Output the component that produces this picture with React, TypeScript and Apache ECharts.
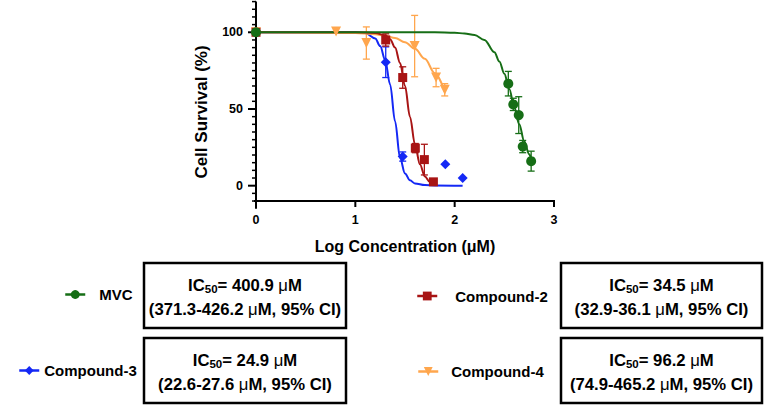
import React, { useEffect, useRef } from "react";
import * as echarts from "echarts";

// ---- measured points (log µM, % survival, error) ----
const logMVC = [0, 2.54, 2.59, 2.645, 2.685, 2.77];
const survMVC = [100, 66.5, 53, 46, 25.5, 16];
const sdMVC = [0, 8, 4, 12, 4, 6.5];

const logC2 = [0, 1.306, 1.477, 1.604, 1.695, 1.786];
const survC2 = [100, 95, 70.5, 24.5, 17, 2.5];
const sdC2 = [0, 4, 7, 3, 10, 1];

const logC3 = [0, 1.306, 1.477, 1.906, 2.081];
const survC3 = [100, 80.5, 19, 14, 5];
const sdC3 = [0, 10, 3, 0, 0];

const logC4 = [0, 0.806, 1.111, 1.597, 1.813, 1.9];
const survC4 = [100, 100.5, 93, 91, 70.5, 62.5];
const sdC4 = [0, 0, 10.5, 20, 6, 4];

// ---- fitted curves ----
const fitMVCx = [0, 1.8, 2.0, 2.1, 2.2, 2.3, 2.4, 2.45, 2.5, 2.55, 2.6, 2.65, 2.7, 2.75, 2.77];
const fitMVCy = [100, 100, 99.7, 99.2, 98.2, 95, 87, 81, 73, 63, 51, 40, 29, 20.5, 17.5];
const fitC2x = [0, 1.0, 1.2, 1.3, 1.35, 1.4, 1.45, 1.5, 1.55, 1.6, 1.65, 1.7, 1.75, 1.786];
const fitC2y = [100, 100, 99.6, 98, 95.5, 90, 80, 65, 45, 27, 14, 6, 2.5, 1];
const fitC3x = [0, 1.0, 1.1, 1.2, 1.25, 1.3, 1.35, 1.4, 1.45, 1.5, 1.55, 1.6, 1.7, 1.8, 2.08];
const fitC3y = [100, 100, 99.5, 96, 91, 82, 66, 42, 18, 8, 3.5, 1.5, 0.4, 0.2, 0];
const fitC4x = [0, 1.0, 1.2, 1.3, 1.4, 1.5, 1.6, 1.7, 1.8, 1.9];
const fitC4y = [100, 99.6, 98.7, 97.8, 96.2, 93.5, 89.2, 82.7, 73.3, 61.3];

// ---- names, titles, IC50 texts ----
const seriesNames = ["MVC", "Compound-2", "Compound-3", "Compound-4"];
const xTitle = "Log Concentration (μM)";
const yTitle = "Cell Survival (%)";
const ic50 = [400.9, 34.5, 24.9, 96.2];
const ciLow = [371.3, 32.9, 22.6, 74.9];
const ciHigh = [426.2, 36.1, 27.6, 465.2];

// ---- axis ranges and ticks ----
const xRange = [0, 3];
const yRange = [-15, 120];
const xAxisAt = -10;
const xTicks = [0, 1, 2, 3];
const yMajorTicks = [0, 50, 100];
const yMinorTicks = [-10, -5, 0, 5, 10, 15, 20, 25, 30, 35, 40, 45, 50, 55, 60, 65, 70, 75, 80, 85, 90, 95, 100, 105, 110, 115, 120];

const GREEN = "#166E16";
const RED = "#A81414";
const BLUE = "#1428F5";
const ORANGE = "#FFA64D";
const FONT = "Liberation Sans";
const BOX_FS = 16.7;
const SUB_FS = 11.5;

const zip2 = (xs: number[], ys: number[]) => xs.map((x, i) => [x, ys[i]]);
const zip3 = (xs: number[], ys: number[], es: number[]) => xs.map((x, i) => [x, ys[i], es[i]]);

// axis lines and ticks, drawn through the chart's own scales
function xAxisSeries() {
  return {
    type: "custom",
    silent: true,
    z: 1,
    clip: false,
    data: xTicks.map((v) => [v, xAxisAt]),
    renderItem: (params: any, api: any) => {
      const p = api.coord([api.value(0), api.value(1)]);
      const st = { stroke: "#000", lineWidth: 2 };
      const children: any[] = [{ type: "line", shape: { x1: p[0], y1: p[1], x2: p[0], y2: p[1] + 6 }, style: st }];
      if (params.dataIndex === 0) {
        const a = api.coord([xRange[0], xAxisAt]);
        const b = api.coord([xRange[1], xAxisAt]);
        children.push({ type: "line", shape: { x1: a[0] - 2, y1: a[1], x2: b[0] + 1, y2: b[1] }, style: st });
      }
      return { type: "group", children };
    },
  };
}

function yAxisSeries() {
  return {
    type: "custom",
    silent: true,
    z: 1,
    clip: false,
    data: yMinorTicks.map((v) => [xRange[0], v]),
    renderItem: (params: any, api: any) => {
      const v = api.value(1);
      const p = api.coord([api.value(0), v]);
      const major = yMajorTicks.indexOf(v) >= 0;
      const len = major ? 8 : 4;
      const children: any[] = [
        { type: "line", shape: { x1: p[0] - len, y1: p[1], x2: p[0], y2: p[1] }, style: { stroke: "#000", lineWidth: major ? 2 : 1.5 } },
      ];
      if (params.dataIndex === 0) {
        const a = api.coord([xRange[0], yRange[1]]);
        const b = api.coord([xRange[0], yRange[0]]);
        children.push({ type: "line", shape: { x1: a[0], y1: a[1], x2: b[0], y2: b[1] }, style: { stroke: "#000", lineWidth: 2 } });
      }
      return { type: "group", children };
    },
  };
}

function errSeries(xs: number[], ys: number[], es: number[], color: string) {
  return {
    type: "custom",
    silent: true,
    z: 2,
    data: zip3(xs, ys, es),
    renderItem: (params: any, api: any) => {
      const x = api.value(0);
      const y = api.value(1);
      const e = api.value(2);
      if (!e) return { type: "group", children: [] };
      const t = api.coord([x, y + e]);
      const b = api.coord([x, y - e]);
      const w = 3.5;
      const st = { stroke: color, lineWidth: 1.3 };
      return {
        type: "group",
        children: [
          { type: "line", shape: { x1: t[0], y1: t[1], x2: b[0], y2: b[1] }, style: st },
          { type: "line", shape: { x1: t[0] - w, y1: t[1], x2: t[0] + w, y2: t[1] }, style: st },
          { type: "line", shape: { x1: b[0] - w, y1: b[1], x2: b[0] + w, y2: b[1] }, style: st },
        ],
      };
    },
  };
}

function fitSeries(name: string, xs: number[], ys: number[], color: string) {
  return {
    type: "line",
    name,
    data: zip2(xs, ys),
    symbol: "none",
    smooth: 0.35,
    smoothMonotone: "x",
    z: 3,
    lineStyle: { color, width: 2 },
    itemStyle: { color },
  };
}

function pointSeries(name: string, xs: number[], ys: number[], color: string, symbol: string, size: number, rotate = 0) {
  return {
    type: "line",
    name,
    data: zip2(xs, ys),
    symbol,
    symbolSize: size,
    symbolRotate: rotate,
    z: 4,
    lineStyle: { color, width: 0, opacity: 0 },
    itemStyle: { color },
  };
}

const legendBase = {
  padding: 0,
  itemWidth: 20,
  itemHeight: 11,
  lineStyle: { width: 2.5, opacity: 1 },
};
const legendText = (pad: number) => ({
  fontFamily: FONT,
  fontWeight: "bold",
  fontSize: 15,
  color: "#000",
  padding: [0, 0, 0, pad],
});

const boxes = [
  { x: 144, y: 263, w: 202, h: 65 },
  { x: 561, y: 263, w: 201, h: 65 },
  { x: 144, y: 338, w: 202, h: 65 },
  { x: 561, y: 338, w: 201, h: 65 },
];

type Piece = { t: string; size: number; weight: string; dy: number };

function buildGraphics() {
  const ctx = document.createElement("canvas").getContext("2d") as CanvasRenderingContext2D;
  const measure = (p: Piece) => {
    ctx.font = `${p.weight} ${p.size}px "${FONT}"`;
    return ctx.measureText(p.t).width;
  };
  const line = (pieces: Piece[], cx: number, cy: number) => {
    const widths = pieces.map(measure);
    const total = widths.reduce((a, b) => a + b, 0);
    let x = cx - total / 2;
    return pieces.map((p, i) => {
      const el = {
        type: "text",
        x,
        y: cy + p.dy,
        silent: true,
        style: { text: p.t, fontSize: p.size, fontWeight: p.weight, fontFamily: FONT, fill: "#000", align: "left", verticalAlign: "middle" },
      };
      x += widths[i];
      return el;
    });
  };
  const out: any[] = [];
  boxes.forEach((bx, i) => {
    const cx = bx.x + bx.w / 2;
    out.push({
      type: "rect",
      shape: { x: bx.x, y: bx.y, width: bx.w, height: bx.h },
      style: { fill: "#fff", stroke: "#000", lineWidth: 2.5 },
      silent: true,
    });
    out.push(
      ...line(
        [
          { t: "IC", size: BOX_FS, weight: "bold", dy: 0 },
          { t: "50", size: SUB_FS, weight: "bold", dy: 4 },
          { t: `= ${ic50[i].toFixed(1)} `, size: BOX_FS, weight: "bold", dy: 0 },
          { t: "μ", size: BOX_FS, weight: "normal", dy: 0 },
          { t: "M", size: BOX_FS, weight: "bold", dy: 0 },
        ],
        cx,
        bx.y + 22
      )
    );
    out.push(
      ...line(
        [
          { t: `(${ciLow[i].toFixed(1)}-${ciHigh[i].toFixed(1)} `, size: BOX_FS, weight: "bold", dy: 0 },
          { t: "μ", size: BOX_FS, weight: "normal", dy: 0 },
          { t: "M, 95% CI)", size: BOX_FS, weight: "bold", dy: 0 },
        ],
        cx,
        bx.y + 46.5
      )
    );
  });
  out.push({
    type: "text",
    x: 405,
    y: 246,
    silent: true,
    style: { text: xTitle, fontSize: 16, fontWeight: "bold", fontFamily: FONT, fill: "#000", align: "center", verticalAlign: "middle" },
  });
  out.push({
    type: "text",
    x: 201,
    y: 112,
    rotation: Math.PI / 2,
    silent: true,
    style: { text: yTitle, fontSize: 17, fontWeight: "bold", fontFamily: FONT, fill: "#000", align: "center", verticalAlign: "middle" },
  });
  return out;
}

function buildOption() {
  return {
    animation: false,
    textStyle: { fontFamily: FONT },
    grid: [{ left: 256, right: 217, top: 1.6, bottom: 197.3 }],
    xAxis: [
      {
        type: "value",
        gridIndex: 0,
        min: xRange[0],
        max: xRange[1],
        interval: 1,
        offset: -8,
        axisLine: { show: false, onZero: false },
        axisTick: { show: false },
        axisLabel: { margin: 13, fontFamily: FONT, fontWeight: "bold", fontSize: 12.5, color: "#000" },
        splitLine: { show: false },
      },
    ],
    yAxis: [
      {
        type: "value",
        gridIndex: 0,
        min: yRange[0],
        max: yRange[1],
        axisLine: { show: false, onZero: false },
        axisTick: { show: false },
        axisLabel: { customValues: yMajorTicks, margin: 13, fontFamily: FONT, fontWeight: "bold", fontSize: 12.5, color: "#000" },
        splitLine: { show: false },
      },
    ],
    legend: [
      { ...legendBase, data: [seriesNames[0]], left: 64, top: 287, textStyle: legendText(9) },
      { ...legendBase, data: [seriesNames[1]], left: 416, top: 288.5, textStyle: legendText(13) },
      { ...legendBase, data: [seriesNames[2]], left: 18, top: 363, textStyle: legendText(0) },
      { ...legendBase, data: [seriesNames[3]], left: 417, top: 364, textStyle: legendText(8) },
    ],
    graphic: buildGraphics(),
    series: [
      xAxisSeries(),
      yAxisSeries(),
      errSeries(logC3, survC3, sdC3, BLUE),
      errSeries(logC4, survC4, sdC4, ORANGE),
      errSeries(logC2, survC2, sdC2, RED),
      errSeries(logMVC, survMVC, sdMVC, GREEN),
      fitSeries("Compound-3 fit", fitC3x, fitC3y, BLUE),
      fitSeries("Compound-4 fit", fitC4x, fitC4y, ORANGE),
      fitSeries("Compound-2 fit", fitC2x, fitC2y, RED),
      fitSeries("MVC fit", fitMVCx, fitMVCy, GREEN),
      pointSeries(seriesNames[2], logC3, survC3, BLUE, "diamond", 10),
      pointSeries(seriesNames[3], logC4, survC4, ORANGE, "triangle", 10, 180),
      pointSeries(seriesNames[1], logC2, survC2, RED, "rect", 9),
      pointSeries(seriesNames[0], logMVC, survMVC, GREEN, "circle", 10),
    ],
  };
}

export default function App() {
  const ref = useRef<HTMLDivElement>(null);
  useEffect(() => {
    document.body.style.margin = "0";
    const chart = echarts.init(ref.current as HTMLDivElement, null, { renderer: "svg" });
    chart.setOption(buildOption() as any);
    return () => chart.dispose();
  }, []);
  return <div ref={ref} style={{ width: 771, height: 406 }} />;
}
